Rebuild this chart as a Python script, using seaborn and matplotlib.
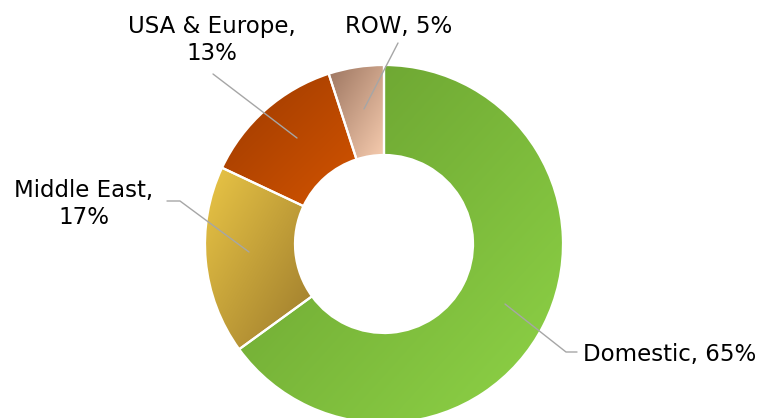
import numpy as np
import matplotlib
matplotlib.use("Agg")
import matplotlib.pyplot as plt
import seaborn as sns

# data
regions = ["Domestic", "Middle East", "USA & Europe", "ROW"]
shares = [65, 17, 13, 5]
label_texts = ["Domestic, 65%", "Middle East,\n17%", "USA & Europe,\n13%", "ROW, 5%"]

# gradient colours (top-left -> bottom-right) for each slice
grad_colors = [
    ("#669c2e", "#8fd447"),
    ("#eac646", "#9c7a2c"),
    ("#9c3a00", "#d35400"),
    ("#9c7560", "#f8cdb0"),
]

sns.set_theme(style="white")
plt.rcParams["font.family"] = ["DejaVu Sans"]

W, H = 762, 418
fig = plt.figure(figsize=(W / 100, H / 100), dpi=100)
ax = fig.add_axes([0, 0, 1, 1])

cx, cy = 384, H - 244
R, ring = 179, 90

wedges, _ = ax.pie(shares, radius=R, center=(cx, cy), startangle=90,
                   counterclock=False, frame=True,
                   wedgeprops=dict(width=ring, edgecolor="white", linewidth=1.6,
                                   facecolor="none"))
ax.set_xlim(0, W)
ax.set_ylim(0, H)
ax.set_aspect("equal")
ax.set_axis_off()

# fill each wedge with a diagonal gradient
for w, (c0, c1) in zip(wedges, grad_colors):
    w.set_zorder(3)
    ext = w.get_path().get_extents()
    gx, gy = np.meshgrid(np.linspace(0, 1, 200), np.linspace(0, 1, 200))
    t = (gx + (1 - gy)) / 2
    cmap = sns.blend_palette([c0, c1], as_cmap=True)
    im = ax.imshow(t, extent=(ext.x0, ext.x1, ext.y0, ext.y1), origin="lower",
                   cmap=cmap, vmin=0, vmax=1, aspect="auto", zorder=2,
                   interpolation="bilinear")
    im.set_clip_path(w)

line_kw = dict(color="#a6a6a6", lw=1.0, zorder=4)
txt_kw = dict(fontsize=16.5, color="black", va="center", linespacing=1.25)

# Domestic
ax.plot([505, 566, 577], [H - 304, H - 352, H - 352], **line_kw)
ax.text(583, H - 354, label_texts[0], ha="left", **txt_kw)
# Middle East
ax.plot([249, 180, 167], [H - 252, H - 201, H - 201], **line_kw)
ax.text(84, H - 204, label_texts[1], ha="center", **txt_kw)
# USA & Europe
ax.plot([297, 213], [H - 138, H - 74], **line_kw)
ax.text(212, H - 40, label_texts[2], ha="center", **txt_kw)
# ROW
ax.plot([364, 398], [H - 109, H - 43], **line_kw)
ax.text(399, H - 26, label_texts[3], ha="center", **txt_kw)

fig.savefig("out.png", dpi=100)
